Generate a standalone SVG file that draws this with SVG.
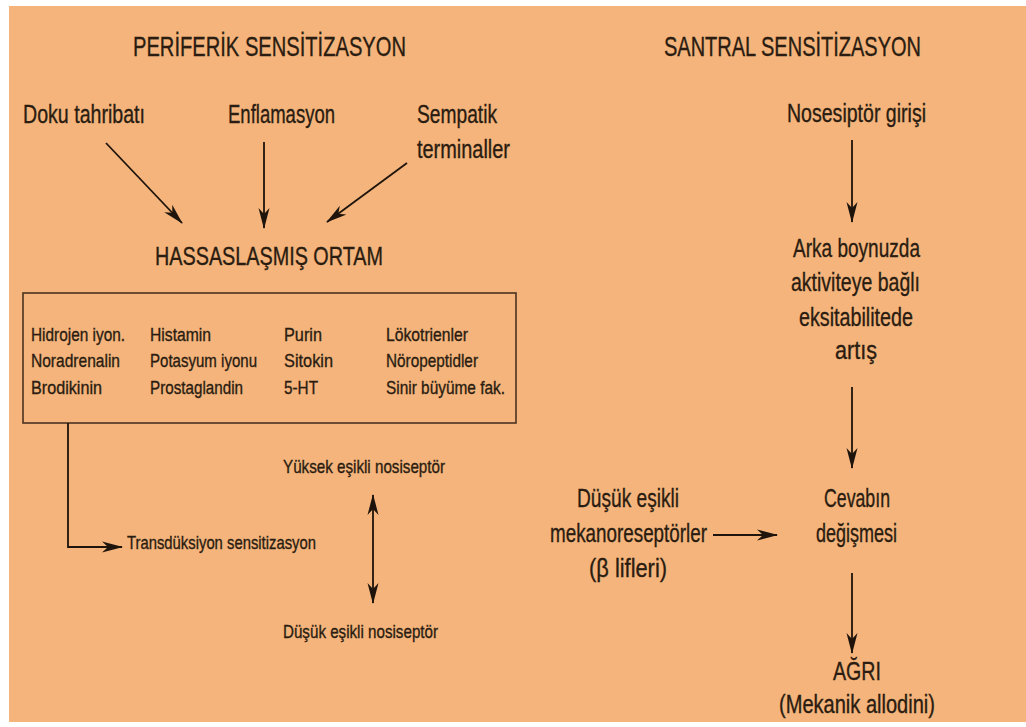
<svg xmlns="http://www.w3.org/2000/svg" width="1026" height="727" viewBox="0 0 1026 727">
<style>
text{font-family:"Liberation Sans",Arial,sans-serif;fill:#2a1c10;stroke:#2a1c10;stroke-width:0.35;}
.t{font-size:28px;}
.m{font-size:26px;}
.s{font-size:19px;}
.c{stroke:#1e140c;stroke-width:1.8;fill:none;}
</style>
<defs>
<marker id="ah" markerUnits="userSpaceOnUse" markerWidth="22" markerHeight="12" refX="20" refY="6" orient="auto">
<path d="M0,0.5 L21,6 L0,11.5 L6,6 Z" fill="#1e140c"/>
</marker>
<marker id="ahs" markerUnits="userSpaceOnUse" markerWidth="22" markerHeight="12" refX="20" refY="6" orient="auto-start-reverse">
<path d="M0,0.5 L21,6 L0,11.5 L6,6 Z" fill="#1e140c"/>
</marker>
</defs>
<rect x="0" y="0" width="1026" height="727" fill="#ffffff"/>
<rect x="9" y="6" width="1017" height="716" fill="#f4b47c"/>

<g id="title-periferik"><text class="t" x="133" y="56" textLength="273" lengthAdjust="spacingAndGlyphs">PERİFERİK SENSİTİZASYON</text></g>
<g id="title-santral"><text class="t" x="664" y="56" textLength="257" lengthAdjust="spacingAndGlyphs">SANTRAL SENSİTİZASYON</text></g>

<g id="doku"><text class="m" x="23" y="123" textLength="122" lengthAdjust="spacingAndGlyphs">Doku tahribatı</text></g>
<g id="enflamasyon"><text class="m" x="228" y="123" textLength="107" lengthAdjust="spacingAndGlyphs">Enflamasyon</text></g>
<g id="sempatik">
<text class="m" x="417" y="123" textLength="80" lengthAdjust="spacingAndGlyphs">Sempatik</text>
<text class="m" x="417" y="158" textLength="93" lengthAdjust="spacingAndGlyphs">terminaller</text>
</g>
<g id="hassas"><text class="m" x="155" y="265" textLength="228" lengthAdjust="spacingAndGlyphs">HASSASLAŞMIŞ ORTAM</text></g>

<g id="mediators">
<rect x="23" y="293" width="493" height="130" fill="none" stroke="#4a3320" stroke-width="1.6"/>
<text class="s" x="31" y="341" textLength="94" lengthAdjust="spacingAndGlyphs">Hidrojen iyon.</text>
<text class="s" x="31" y="367" textLength="89" lengthAdjust="spacingAndGlyphs">Noradrenalin</text>
<text class="s" x="31" y="394" textLength="71" lengthAdjust="spacingAndGlyphs">Brodikinin</text>
<text class="s" x="150" y="341" textLength="61" lengthAdjust="spacingAndGlyphs">Histamin</text>
<text class="s" x="150" y="367" textLength="107" lengthAdjust="spacingAndGlyphs">Potasyum iyonu</text>
<text class="s" x="150" y="394" textLength="93" lengthAdjust="spacingAndGlyphs">Prostaglandin</text>
<text class="s" x="284" y="341" textLength="38" lengthAdjust="spacingAndGlyphs">Purin</text>
<text class="s" x="284" y="367" textLength="49" lengthAdjust="spacingAndGlyphs">Sitokin</text>
<text class="s" x="284" y="394" textLength="34" lengthAdjust="spacingAndGlyphs">5-HT</text>
<text class="s" x="386" y="341" textLength="82" lengthAdjust="spacingAndGlyphs">Lökotrienler</text>
<text class="s" x="386" y="367" textLength="92" lengthAdjust="spacingAndGlyphs">Nöropeptidler</text>
<text class="s" x="386" y="394" textLength="119" lengthAdjust="spacingAndGlyphs">Sinir büyüme fak.</text>
</g>

<g id="transduksiyon"><text class="s" x="127" y="549" textLength="189" lengthAdjust="spacingAndGlyphs">Transdüksiyon sensitizasyon</text></g>
<g id="yuksek"><text class="s" x="283" y="473" textLength="162" lengthAdjust="spacingAndGlyphs">Yüksek eşikli nosiseptör</text></g>
<g id="dusuk"><text class="s" x="283" y="638" textLength="155" lengthAdjust="spacingAndGlyphs">Düşük eşikli nosiseptör</text></g>

<g id="nosesiptor"><text class="m" x="787" y="122" textLength="139" lengthAdjust="spacingAndGlyphs">Nosesiptör girişi</text></g>
<g id="arka">
<text class="m" x="793" y="257" textLength="127" lengthAdjust="spacingAndGlyphs">Arka boynuzda</text>
<text class="m" x="791" y="291" textLength="129" lengthAdjust="spacingAndGlyphs">aktiviteye bağlı</text>
<text class="m" x="799" y="326" textLength="114" lengthAdjust="spacingAndGlyphs">eksitabilitede</text>
<text class="m" x="835" y="359" textLength="42" lengthAdjust="spacingAndGlyphs">artış</text>
</g>
<g id="mekano">
<text class="m" x="577" y="507" textLength="102" lengthAdjust="spacingAndGlyphs">Düşük eşikli</text>
<text class="m" x="550" y="542" textLength="157" lengthAdjust="spacingAndGlyphs">mekanoreseptörler</text>
<text class="m" x="589" y="577" textLength="78" lengthAdjust="spacingAndGlyphs">(β lifleri)</text>
</g>
<g id="cevap">
<text class="m" x="824" y="507" textLength="66" lengthAdjust="spacingAndGlyphs">Cevabın</text>
<text class="m" x="816" y="542" textLength="81" lengthAdjust="spacingAndGlyphs">değişmesi</text>
</g>
<g id="agri">
<text class="m" x="833" y="680" textLength="48" lengthAdjust="spacingAndGlyphs">AĞRI</text>
<text class="m" x="779" y="713" textLength="156" lengthAdjust="spacingAndGlyphs">(Mekanik allodini)</text>
</g>

<g id="connectors">
<line class="c" x1="106" y1="143" x2="182" y2="223" marker-end="url(#ah)"/>
<line class="c" x1="264" y1="142" x2="264" y2="228" marker-end="url(#ah)"/>
<line class="c" x1="407" y1="163" x2="327" y2="222" marker-end="url(#ah)"/>
<polyline class="c" points="68,423 68,547 122,547" marker-end="url(#ah)"/>
<line class="c" x1="373" y1="495" x2="373" y2="603" marker-start="url(#ahs)" marker-end="url(#ah)"/>
<line class="c" x1="852" y1="140" x2="852" y2="222" marker-end="url(#ah)"/>
<line class="c" x1="852" y1="387" x2="852" y2="468" marker-end="url(#ah)"/>
<line class="c" x1="852" y1="573" x2="852" y2="653" marker-end="url(#ah)"/>
<line class="c" x1="713" y1="535" x2="777" y2="535" marker-end="url(#ah)"/>
</g>
</svg>
